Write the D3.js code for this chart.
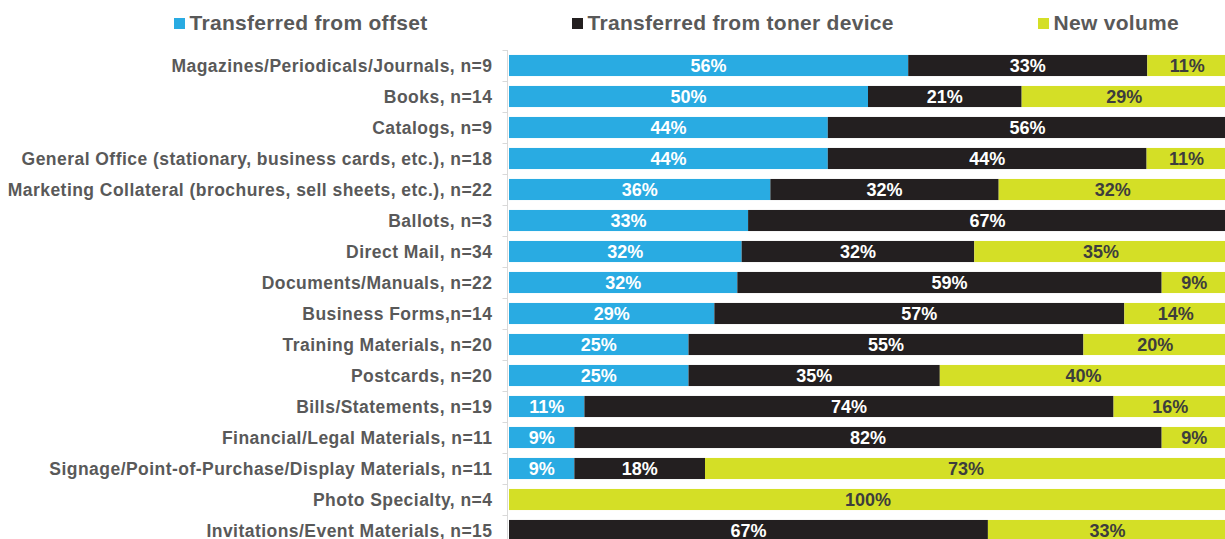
<!DOCTYPE html>
<html>
<head>
<meta charset="utf-8">
<script src="https://cdn.jsdelivr.net/npm/d3@7"></script>
<style>
  body { margin: 0; background: #fff; }
  text { font-family: "Liberation Sans", Arial, sans-serif; font-weight: bold; }
</style>
</head>
<body>
<div id="chart"></div>
<script>
// chart size
const width = 1225, height = 539;

// data (shares in %, from the n counts)
const categories = [
  "Magazines/Periodicals/Journals, n=9",
  "Books, n=14",
  "Catalogs, n=9",
  "General Office (stationary, business cards, etc.), n=18",
  "Marketing Collateral (brochures, sell sheets, etc.), n=22",
  "Ballots, n=3",
  "Direct Mail, n=34",
  "Documents/Manuals, n=22",
  "Business Forms,n=14",
  "Training Materials, n=20",
  "Postcards, n=20",
  "Bills/Statements, n=19",
  "Financial/Legal Materials, n=11",
  "Signage/Point-of-Purchase/Display Materials, n=11",
  "Photo Specialty, n=4",
  "Invitations/Event Materials, n=15"
];
const offset = [55.6, 50, 44.4, 44.4, 36.4, 33.3, 32.4, 31.8, 28.6, 25, 25, 10.5, 9.1, 9.1, 0, 0];
const toner  = [33.3, 21.4, 55.6, 44.4, 31.8, 66.7, 32.4, 59.1, 57.1, 55, 35, 73.7, 81.8, 18.2, 0, 66.7];
const newVol = [11.1, 28.6, 0, 11.1, 31.8, 0, 35.3, 9.1, 14.3, 20, 40, 15.8, 9.1, 72.7, 100, 33.3];

const seriesNames = ["Transferred from offset", "Transferred from toner device", "New volume"];
const seriesKeys = ["offset", "toner", "newVol"];
const colors = ["#29abe2", "#231f20", "#d4df26"];
const labelColors = ["#ffffff", "#ffffff", "#3d3d3d"];

const table = categories.map((c, i) => ({cat: c, offset: offset[i], toner: toner[i], newVol: newVol[i]}));
const stacked = d3.stack().keys(seriesKeys)(table);

const svg = d3.select("#chart").append("svg").attr("width", width).attr("height", height);

// scales
const x = d3.scaleLinear().domain([0, 100]).range([509, 1227]);
const y = d3.scaleBand().domain(categories).range([50, 546]).paddingInner(0.32).paddingOuter(0.16);
const color = d3.scaleOrdinal().domain(seriesKeys).range(colors);

// axis line with ticks on band edges
const axisX = 507.5;
svg.append("line").attr("x1", axisX).attr("x2", axisX).attr("y1", 50).attr("y2", 546)
  .attr("stroke", "#d9d9d9");
svg.selectAll("line.tick").data(d3.range(categories.length + 1))
  .join("line").attr("class", "tick")
  .attr("x1", axisX - 5).attr("x2", axisX)
  .attr("y1", d => 50.5 + d * y.step()).attr("y2", d => 50.5 + d * y.step())
  .attr("stroke", "#d9d9d9");

// category labels
svg.selectAll("text.cat").data(categories)
  .join("text").attr("class", "cat")
  .attr("x", 492.5)
  .attr("y", d => y(d) + y.bandwidth() / 2 + 6)
  .attr("text-anchor", "end")
  .attr("font-size", "17.5px")
  .attr("letter-spacing", "0.46px")
  .attr("fill", "#595959")
  .text(d => d);

// bars
const layer = svg.selectAll("g.layer").data(stacked)
  .join("g").attr("class", "layer")
  .attr("fill", d => color(d.key));

layer.selectAll("rect").data(d => d)
  .join("rect")
  .attr("x", d => x(d[0]))
  .attr("y", d => y(d.data.cat))
  .attr("width", d => x(d[1]) - x(d[0]))
  .attr("height", y.bandwidth());

// value labels
stacked.forEach((s, si) => {
  svg.append("g").selectAll("text").data(s.filter(d => d[1] - d[0] > 0))
    .join("text")
    .attr("x", d => (x(d[0]) + x(d[1])) / 2)
    .attr("y", d => y(d.data.cat) + y.bandwidth() / 2 + 6.5)
    .attr("text-anchor", "middle")
    .attr("font-size", "18px")
    .attr("fill", labelColors[si])
    .text(d => Math.round(d[1] - d[0]) + "%");
});

// legend
const legendX = [174, 572, 1038];
const legend = svg.selectAll("g.legend").data(seriesNames)
  .join("g").attr("class", "legend")
  .attr("transform", (d, i) => `translate(${legendX[i]},0)`);
legend.append("rect").attr("x", 0).attr("y", 18).attr("width", 11).attr("height", 11)
  .attr("fill", (d, i) => colors[i]);
legend.append("text").attr("x", 15.5).attr("y", 30)
  .attr("font-size", "21px").attr("letter-spacing", "0.3px").attr("fill", "#595959")
  .text(d => d);
</script>
</body>
</html>
